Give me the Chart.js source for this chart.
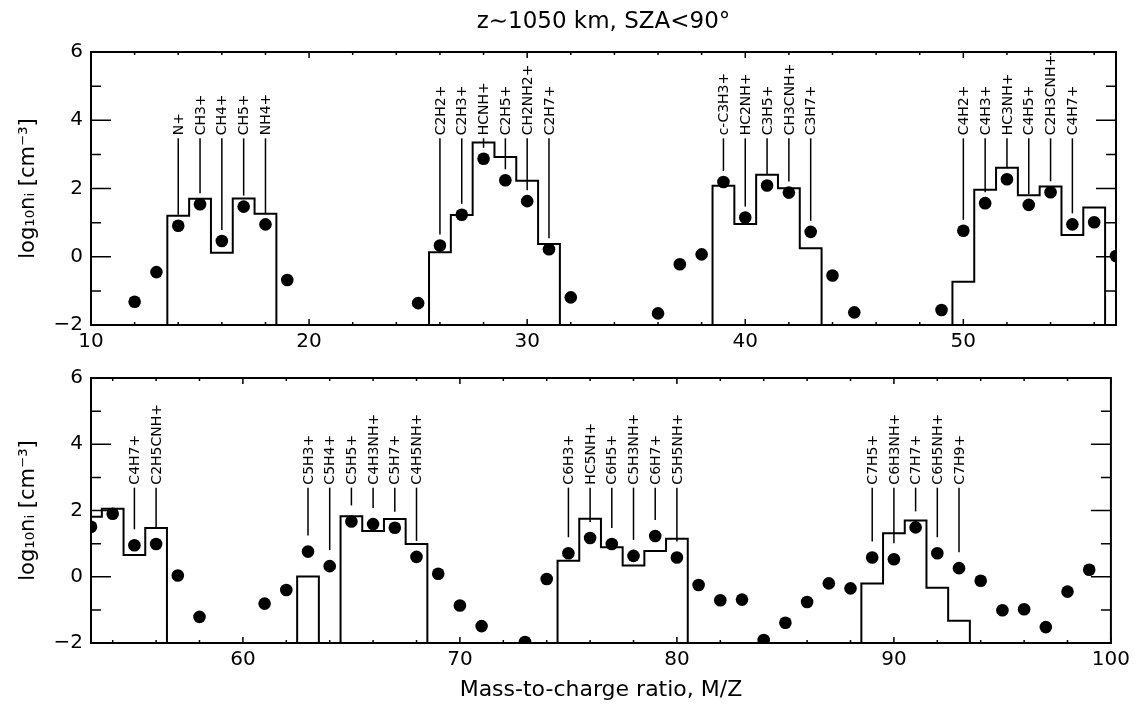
<!DOCTYPE html>
<html lang="en">
<head>
  <meta charset="UTF-8" />
  <title>Ion densities, z~1050 km</title>
  <script src="https://cdn.jsdelivr.net/npm/chart.js"></script>
  <style>
    body { margin: 0; background: #fff; }
    #wrap { position: relative; width: 1135px; height: 707px; }
    canvas { position: absolute; left: 0; }
    #top { top: 0; }
    #bot { top: 358px; }
  </style>
</head>
<body>
  <div id="wrap">
    <canvas id="top" width="1135" height="358"></canvas>
    <canvas id="bot" width="1135" height="349"></canvas>
  </div>

  <script>
    // ---- data ----
    // measured densities (dots), log10 cm^-3
    const topDotMass = [12,13,14,15,16,17,18,19, 25,26,27,28,29,30,31,32, 36,37,38,39,40,41,42,43,44,45, 49,50,51,52,53,54,55,56,57];
    const topDotLog  = [-1.32,-0.45,0.91,1.54,0.46,1.47,0.95,-0.68, -1.36,0.33,1.23,2.87,2.24,1.63,0.22,-1.19,
                        -1.66,-0.22,0.07,2.19,1.15,2.09,1.88,0.73,-0.55,-1.63, -1.56,0.76,1.57,2.27,1.52,1.89,0.95,1.01,0.02];

    // model histogram (bins centred on integer masses, -3 = below the axis)
    const topModelMass = [13,14,15,16,17,18,19, 25,26,27,28,29,30,31,32, 38,39,40,41,42,43,44, 49,50,51,52,53,54,55,56,57];
    const topModelLog  = [-3,1.20,1.70,0.12,1.71,1.26,-3, -3,0.13,1.22,3.35,2.92,2.23,0.37,-3,
                          -3,2.08,0.96,2.40,2.01,0.25,-3, -3,-0.73,1.96,2.61,1.80,2.06,0.64,1.44,-3];

    const topIonNames = ['N+','CH3+','CH4+','CH5+','NH4+',
                         'C2H2+','C2H3+','HCNH+','C2H5+','CH2NH2+','C2H7+',
                         'c-C3H3+','HC2NH+','C3H5+','CH3CNH+','C3H7+',
                         'C4H2+','C4H3+','HC3NH+','C4H5+','C2H3CNH+','C4H7+'];
    const topIonMass  = [14,15,16,17,18, 26,27,28,29,30,31, 39,40,41,42,43, 50,51,52,53,54,55];

    const botDotMass = [53,54,55,56,57,58, 61,62,63,64,65,66,67,68,69,70,71,
                        73,74,75,76,77,78,79,80,81,82,83,84,85,86,87,88,89,90,91,92,93,94,95,96,97,98,99];
    const botDotLog  = [1.51,1.90,0.95,0.99,0.04,-1.21,
                        -0.81,-0.40,0.76,0.32,1.67,1.59,1.48,0.60,0.09,-0.87,-1.49,
                        -1.97,-0.07,0.71,1.17,0.99,0.63,1.23,0.58,-0.25,-0.71,-0.69,-1.91,-1.39,-0.76,
                        -0.20,-0.35,0.58,0.53,1.49,0.71,0.26,-0.12,-1.01,-0.98,-1.52,-0.45,0.21];

    const botModelMass = [52,53,54,55,56,57, 62,63,64, 65,66,67,68,69, 74,75,76,77,78,79,80,81, 88,89,90,91,92,93,94];
    const botModelLog  = [2.0,1.81,2.05,0.66,1.47,-3, -3,0.01,-3, 1.83,1.38,1.74,0.99,-3,
                          -3,0.48,1.75,0.89,0.34,0.78,1.15,-3, -3,-0.20,1.31,1.70,-0.33,-1.33,-3];

    const botIonNames = ['C4H7+','C2H5CNH+',
                         'C5H3+','C5H4+','C5H5+','C4H3NH+','C5H7+','C4H5NH+',
                         'C6H3+','HC5NH+','C6H5+','C5H3NH+','C6H7+','C5H5NH+',
                         'C7H5+','C6H3NH+','C7H7+','C6H5NH+','C7H9+'];
    const botIonMass  = [55,56, 63,64,65,66,67,68, 75,76,77,78,79,80, 89,90,91,92,93];

    const topXTicks = [10,20,30,40,50];
    const botXTicks = [60,70,80,90,100];
    const yTicks = [-2,0,2,4,6];

    const FONT = '"DejaVu Sans", sans-serif';
    Chart.defaults.font.family = FONT;
    Chart.defaults.color = '#000';

    function pts(xs, ys) { return xs.map((m, i) => ({ x: m, y: ys[i] })); }

    // box, inward ticks on all four sides, ion labels with leader lines
    const idlFrame = {
      id: 'idlFrame',
      afterDatasetsDraw(chart, args, o) {
        const { ctx, chartArea: a, scales: { x, y } } = chart;
        ctx.save();
        ctx.strokeStyle = '#000';
        ctx.lineWidth = 2;
        ctx.strokeRect(a.left, a.top, a.right - a.left, a.bottom - a.top);

        ctx.lineWidth = 1.5;
        ctx.beginPath();
        for (let m = Math.ceil(x.min / 2) * 2; m <= x.max; m += 2) {
          const px = x.getPixelForValue(m);
          const len = m % 10 === 0 ? 6 : 3;
          ctx.moveTo(px, a.bottom); ctx.lineTo(px, a.bottom - len);
          ctx.moveTo(px, a.top); ctx.lineTo(px, a.top + len);
        }
        for (let v = y.min; v <= y.max; v++) {
          const py = y.getPixelForValue(v);
          const len = v % 2 === 0 ? 20 : 10;
          ctx.moveTo(a.left, py); ctx.lineTo(a.left + len, py);
          ctx.moveTo(a.right, py); ctx.lineTo(a.right - len, py);
        }
        ctx.stroke();

        const top = y.getPixelForValue(o.labelY);
        ctx.font = '14px ' + FONT;
        ctx.fillStyle = '#000';
        ctx.lineWidth = 1.5;
        o.names.forEach((name, i) => {
          const m = o.masses[i];
          const px = x.getPixelForValue(m);
          const end = y.getPixelForValue(o.dotLog[o.dotMass.indexOf(m)]) - o.gap;
          ctx.beginPath();
          ctx.moveTo(px, top);
          ctx.lineTo(px, end);
          ctx.stroke();
          ctx.save();
          ctx.translate(px + 1, top - 3);
          ctx.rotate(-Math.PI / 2);
          ctx.textAlign = 'left';
          ctx.textBaseline = 'middle';
          ctx.fillText(name, 0, 0);
          ctx.restore();
        });
        ctx.restore();
      }
    };

    function makeChart(id, cfg) {
      return new Chart(document.getElementById(id), {
        type: 'scatter',
        data: {
          datasets: [
            {
              type: 'line',
              data: pts(cfg.modelMass, cfg.modelLog),
              stepped: 'middle',
              borderColor: '#000',
              borderWidth: 2,
              pointRadius: 0,
              fill: false,
              order: 2
            },
            {
              data: pts(cfg.dotMass, cfg.dotLog),
              pointRadius: 6.3,
              backgroundColor: '#000',
              borderWidth: 0,
              clip: 0,
              order: 1
            }
          ]
        },
        options: {
          responsive: false,
          animation: false,
          events: [],
          layout: { padding: { left: 0, right: 19, top: cfg.padTop, bottom: 0 } },
          plugins: {
            legend: { display: false },
            tooltip: { enabled: false },
            title: cfg.title,
            idlFrame: {
              names: cfg.names, masses: cfg.masses,
              dotMass: cfg.dotMass, dotLog: cfg.dotLog,
              labelY: cfg.labelY, gap: cfg.gap
            }
          },
          scales: {
            x: {
              type: 'linear',
              min: cfg.xMin, max: cfg.xMax,
              grid: { display: false, drawTicks: false },
              border: { display: false },
              afterBuildTicks: s => { s.ticks = cfg.xTicks.map(v => ({ value: v })); },
              afterFit: s => { s.height = cfg.xHeight; },
              ticks: { padding: 5, font: { size: 20 }, color: '#000' },
              title: cfg.xTitle
            },
            y: {
              type: 'linear',
              min: -2, max: 6,
              grid: { display: false, drawTicks: false },
              border: { display: false },
              afterBuildTicks: s => { s.ticks = yTicks.map(v => ({ value: v })); },
              afterFit: s => { s.width = 91; },
              ticks: {
                padding: 8, font: { size: 20 }, color: '#000',
                callback: v => (v < 0 ? '\u2212' + Math.abs(v) : String(v))
              },
              title: {
                display: true,
                text: 'log\u2081\u2080n\u1D62 [cm\u207B\u00B3]',
                font: { size: 21 },
                color: '#000',
                padding: { top: 16, bottom: 0 }
              }
            }
          }
        },
        plugins: [idlFrame]
      });
    }

    makeChart('top', {
      modelMass: topModelMass, modelLog: topModelLog,
      dotMass: topDotMass, dotLog: topDotLog,
      names: topIonNames, masses: topIonMass,
      labelY: 3.47, gap: 11,
      xMin: 10, xMax: 57, xTicks: topXTicks, xHeight: 33, padTop: 0,
      title: {
        display: true,
        text: 'z\u223C1050 km, SZA<90\u00B0',
        fullSize: false,
        font: { size: 23, weight: 'normal' },
        color: '#000',
        padding: { top: 8, bottom: 16.4 }
      },
      xTitle: { display: false }
    });

    makeChart('bot', {
      modelMass: botModelMass, modelLog: botModelLog,
      dotMass: botDotMass, dotLog: botDotLog,
      names: botIonNames, masses: botIonMass,
      labelY: 2.69, gap: 16,
      xMin: 53, xMax: 100, xTicks: botXTicks, xHeight: 64, padTop: 12,
      title: { display: false },
      xTitle: {
        display: true,
        text: 'Mass-to-charge ratio, M/Z',
        font: { size: 22 },
        color: '#000',
        padding: { top: 0, bottom: 4 }
      }
    });
  </script>
</body>
</html>
